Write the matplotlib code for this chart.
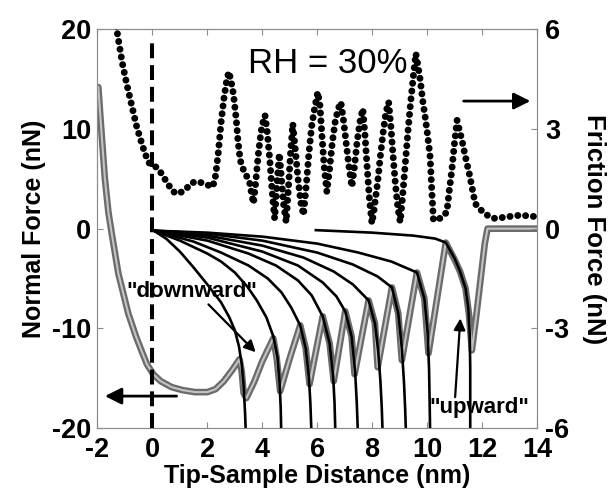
import matplotlib
matplotlib.use("Agg")
import matplotlib.pyplot as plt

plt.rcParams["font.family"] = ["Liberation Sans", "DejaVu Sans"]
plt.rcParams["axes.unicode_minus"] = False

# normal force data (grey open circles), left axis
grey_x = [-1.97, -1.85, -1.73, -1.6, -1.48, -1.24, -0.88, -0.6, -0.39, -0.2,
          0.03, 0.3, 0.7, 1.1, 1.55, 2.0, 2.3, 2.6, 2.9, 3.17,
          3.25, 3.32, 3.42, 3.7, 4.0, 4.4, 4.52, 4.65, 5.0, 5.38,
          5.58, 5.72, 6.2, 6.45, 6.6, 7.02, 7.25, 7.36, 7.87, 8.1,
          8.2, 8.72, 8.95, 9.08, 9.63, 9.9, 10.05, 10.68, 11.0, 11.2,
          11.4, 11.52, 11.63, 11.8, 11.95, 12.1, 12.2, 14.0]
grey_y = [14.2, 9.5, 5.0, 1.6, -0.5, -4.5, -8.5, -10.8, -12.3, -13.6,
          -14.6, -15.3, -15.9, -16.2, -16.4, -16.4, -16.1, -15.3, -14.2, -13.1,
          -14.3, -16.5, -17.0, -15.4, -13.3, -11.0, -12.9, -16.3, -13.0, -9.7,
          -12.0, -15.6, -8.8, -11.5, -15.3, -8.3, -10.8, -14.6, -7.2, -9.5,
          -13.9, -5.9, -8.5, -13.2, -4.4, -7.0, -12.5, -1.4, -3.1, -4.3,
          -6.0, -8.5, -12.2, -8.5, -5.0, -1.5, 0.0, 0.0]

# friction force data (black dots), right axis
fric_x = [-1.32, -1.1, -0.94, -0.75, -0.57, -0.4, -0.27, -0.1, 0.05, 0.15,
          0.28, 0.45, 0.6, 0.75, 0.9, 1.05, 1.25, 1.45, 1.61, 1.8,
          1.98, 2.2, 2.3, 2.4, 2.5, 2.6, 2.7, 2.78, 2.85, 2.95,
          3.05, 3.12, 3.2, 3.3, 3.42, 3.55, 3.62, 3.68, 3.75, 3.85,
          3.95, 4.05, 4.1, 4.18, 4.27, 4.37, 4.45, 4.55, 4.62, 4.7,
          4.78, 4.87, 4.95, 5.03, 5.11, 5.2, 5.3, 5.4, 5.5, 5.6,
          5.7, 5.8, 5.9, 6.02, 6.1, 6.18, 6.26, 6.35, 6.45, 6.55,
          6.65, 6.76, 6.86, 6.95, 7.05, 7.15, 7.26, 7.36, 7.45, 7.55,
          7.66, 7.74, 7.82, 7.9, 7.99, 8.06, 8.12, 8.2, 8.3, 8.4,
          8.5, 8.6, 8.68, 8.76, 8.85, 8.94, 9.02, 9.1, 9.2, 9.3,
          9.4, 9.5, 9.59, 9.67, 9.75, 9.85, 9.93, 10.02, 10.11, 10.17,
          10.23, 10.35, 10.48, 10.6, 10.72, 10.8, 10.9, 11.0, 11.09, 11.18,
          11.27, 11.36, 11.45, 11.55, 11.63, 11.7, 11.75, 11.9, 12.05, 12.2,
          12.42, 12.7, 12.91, 13.2, 13.39, 13.7, 14.0]
fric_y = [6.1, 5.0, 4.37, 3.7, 3.06, 2.6, 2.26, 1.95, 1.88, 1.85,
          1.72, 1.5, 1.3, 1.12, 1.05, 1.1, 1.22, 1.38, 1.42, 1.38,
          1.32, 1.26, 1.6, 2.3, 3.2, 3.9, 4.45, 4.72, 4.5, 4.05,
          3.3, 2.6, 2.05, 1.8, 1.6, 1.35, 1.0, 0.76, 1.3, 2.2,
          2.9, 3.3, 3.41, 2.9, 2.1, 1.0, 0.3, 1.5, 2.26, 1.5,
          0.7, 0.2, 1.2, 2.3, 3.16, 2.4, 1.5, 0.8, 0.41, 1.3,
          2.3, 3.1, 3.6, 4.11, 3.7, 2.7, 1.8, 1.11, 1.8, 2.6,
          3.2, 3.6, 3.81, 3.3, 2.6, 1.9, 1.26, 1.9, 2.6, 3.2,
          3.61, 2.8, 1.8, 0.9, 0.16, 0.5, 0.9, 1.4, 2.2, 2.9,
          3.5, 3.81, 3.1, 2.2, 1.3, 0.6, 0.2, 0.9, 1.9, 2.9,
          3.8, 4.6, 5.27, 4.9, 4.47, 3.8, 3.36, 2.8, 2.16, 1.16,
          0.26, 0.3, 0.31, 0.4, 0.5, 1.1, 1.76, 2.6, 3.26, 2.95,
          2.66, 2.3, 1.96, 1.6, 1.26, 0.95, 0.76, 0.6, 0.5, 0.4,
          0.31, 0.33, 0.36, 0.38, 0.41, 0.38, 0.36]

# model curves (solid lines), left axis
c1_x = [0.05, 0.5, 1.0, 1.5, 2.0, 2.5, 2.8, 3.0, 3.15, 3.25, 3.32, 3.37, 3.40]
c1_y = [-0.2, -1.0, -2.3, -3.9, -5.6, -7.4, -8.9, -10.2, -11.8, -13.6, -15.8, -18.3, -20.5]
c2_x = [0.05, 1.0, 2.0, 2.5, 3.0, 3.45, 3.8, 4.15, 4.4, 4.55, 4.63, 4.67, 4.69]
c2_y = [-0.2, -1.2, -2.5, -3.3, -4.4, -5.8, -7.2, -8.9, -10.8, -12.9, -15.5, -18.0, -20.5]
c3_x = [0.05, 1.5, 2.5, 3.5, 4.2, 4.7, 5.05, 5.38, 5.58, 5.70, 5.75, 5.79]
c3_y = [-0.2, -1.3, -2.4, -3.7, -5.0, -6.4, -7.9, -9.7, -12.0, -15.0, -17.5, -20.5]
c4_x = [0.05, 2.0, 3.5, 4.5, 5.3, 5.8, 6.2, 6.45, 6.58, 6.63, 6.66]
c4_y = [-0.2, -1.2, -2.5, -3.7, -5.2, -6.7, -8.8, -11.5, -14.8, -17.5, -20.5]
c5_x = [0.05, 2.0, 4.0, 5.3, 6.2, 6.7, 7.02, 7.25, 7.38, 7.44, 7.48]
c5_y = [-0.2, -0.9, -2.3, -3.7, -5.4, -6.8, -8.3, -10.8, -14.4, -17.5, -20.5]
c6_x = [0.05, 2.0, 4.0, 5.5, 6.6, 7.3, 7.87, 8.1, 8.22, 8.30, 8.35, 8.38]
c6_y = [-0.2, -0.7, -1.7, -2.9, -4.3, -5.6, -7.2, -9.5, -12.3, -15.3, -18.0, -20.5]
c7_x = [0.05, 2.0, 4.0, 6.0, 7.3, 8.2, 8.72, 8.95, 9.08, 9.16, 9.20, 9.23]
c7_y = [-0.2, -0.5, -1.2, -2.4, -3.6, -4.8, -5.9, -8.5, -12.0, -15.5, -18.0, -20.5]
c8_x = [0.05, 2.0, 4.0, 6.0, 7.5, 8.7, 9.63, 9.9, 10.02, 10.07, 10.09, 10.11]
c8_y = [-0.2, -0.4, -0.8, -1.5, -2.4, -3.3, -4.4, -7.0, -10.5, -14.0, -17.0, -20.5]
c9_x = [5.95, 8.0, 9.5, 10.3, 10.68, 11.0, 11.2, 11.4, 11.5, 11.55, 11.57, 11.57]
c9_y = [-0.15, -0.4, -0.7, -1.0, -1.4, -3.0, -4.3, -6.0, -8.0, -10.5, -14.0, -20.5]
curves = [(c1_x, c1_y), (c2_x, c2_y), (c3_x, c3_y), (c4_x, c4_y), (c5_x, c5_y),
          (c6_x, c6_y), (c7_x, c7_y), (c8_x, c8_y), (c9_x, c9_y)]

x_ticks = [-2, 0, 2, 4, 6, 8, 10, 12, 14]
left_ticks = [-20, -10, 0, 10, 20]
right_ticks = [-6, -3, 0, 3, 6]

fig = plt.figure(figsize=(6.1, 4.96), dpi=100)
ax = fig.add_axes([0.1598, 0.1371, 0.7205, 0.8038])
ax2 = ax.twinx()

# grey band of open circles
ax.plot(grey_x, grey_y, color="#6b6b6b", lw=4.8, solid_joinstyle="round",
        solid_capstyle="round", zorder=2)
ax.plot(grey_x, grey_y, color="#c4c4c4", lw=1.5, solid_joinstyle="round", zorder=2.1)

for cx, cy in curves:
    ax.plot(cx, cy, color="black", lw=1.9, solid_joinstyle="round", zorder=3)

ax.axvline(0, ymax=0.975, color="black", lw=2.9, linestyle=(0, (3.7, 1.7)), zorder=4)

arrow = dict(arrowstyle="-|>", lw=2.0, color="black", mutation_scale=25, shrinkA=0, shrinkB=0)
thin_arrow = dict(arrowstyle="-|>", lw=1.6, color="black", mutation_scale=17, shrinkA=0, shrinkB=0)
ax.annotate("", xy=(-1.73, -16.8), xytext=(0.88, -16.8), arrowprops=arrow, zorder=5)
ax.annotate("", xy=(3.76, -12.4), xytext=(2.04, -7.6), arrowprops=thin_arrow, zorder=5)
ax.annotate("", xy=(11.21, -9.0), xytext=(11.02, -16.9), arrowprops=thin_arrow, zorder=5)

ax.text(1.45, -6.3, '"downward"', fontsize=16, fontweight="bold", ha="center", va="center", zorder=5)
ax.text(11.9, -17.9, '"upward"', fontsize=16, fontweight="bold", ha="center", va="center", zorder=5)
ax.text(6.4, 16.6, "RH = 30%", fontsize=25, ha="center", va="center", zorder=5)

# friction as closely spaced round dots
ax2.plot(fric_x, fric_y, color="black", lw=5.0, linestyle=(0, (0.01, 1.12)),
         dash_capstyle="round", zorder=3)
ax2.annotate("", xy=(13.76, 3.84), xytext=(11.33, 3.84), arrowprops=arrow, zorder=5)

ax.set_xlim(-2, 14)
ax.set_ylim(-20, 20)
ax2.set_ylim(-6, 6)
ax.set_xticks(x_ticks)
ax.set_yticks(left_ticks)
ax2.set_yticks(right_ticks)

tick_col = "#8c8c8c"
ax.tick_params(axis="both", direction="in", length=4.5, width=0.8, color=tick_col,
               labelsize=19.5, top=True, right=False)
ax.tick_params(axis="x", pad=6.2)
ax.tick_params(axis="y", pad=4.5)
ax2.tick_params(axis="y", direction="in", length=4.5, width=0.8, color=tick_col,
                labelsize=19.5, pad=6)
for lab in ax.get_xticklabels() + ax.get_yticklabels() + ax2.get_yticklabels():
    lab.set_fontweight("bold")
for sp in list(ax.spines.values()) + list(ax2.spines.values()):
    sp.set_color(tick_col)
    sp.set_linewidth(0.8)

ax.set_xlabel("Tip-Sample Distance (nm)", fontsize=18, fontweight="bold", labelpad=1)
ax.set_ylabel("Normal Force (nN)", fontsize=18, fontweight="bold", labelpad=4)
ax2.set_ylabel("Friction Force (nN)", fontsize=18.5, fontweight="bold", rotation=270,
               va="bottom", labelpad=9)

fig.savefig("out.png", dpi=100)
